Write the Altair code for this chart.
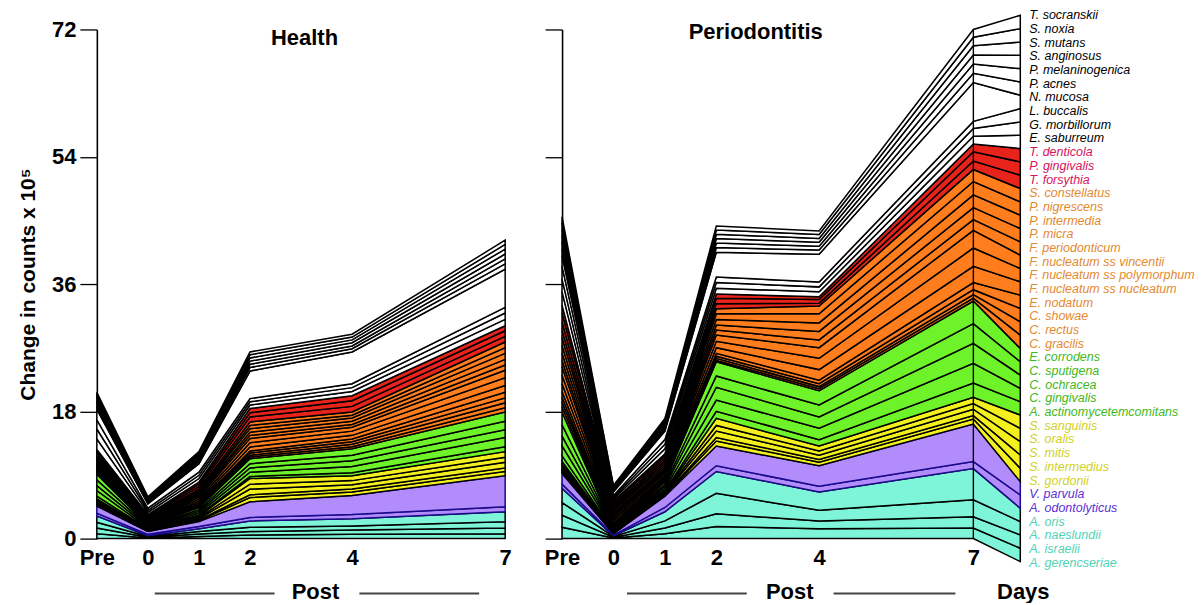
import altair as alt
import pandas as pd

FONT = "Liberation Sans"

SPECIES = [
    "T. socranskii", "S. noxia", "S. mutans", "S. anginosus", "P. melaninogenica",
    "P. acnes", "N. mucosa", "L. buccalis", "G. morbillorum", "E. saburreum",
    "T. denticola", "P. gingivalis", "T. forsythia",
    "S. constellatus", "P. nigrescens", "P. intermedia", "P. micra", "F. periodonticum",
    "F. nucleatum ss vincentii", "F. nucleatum ss polymorphum", "F. nucleatum ss nucleatum",
    "E. nodatum", "C. showae", "C. rectus", "C. gracilis",
    "E. corrodens", "C. sputigena", "C. ochracea", "C. gingivalis", "A. actinomycetemcomitans",
    "S. sanguinis", "S. oralis", "S. mitis", "S. intermedius", "S. gordonii",
    "V. parvula", "A. odontolyticus",
    "A. oris", "A. naeslundii", "A. israelii", "A. gerencseriae",
]
COMPLEX = (["other"] * 10 + ["red"] * 3 + ["orange"] * 12 + ["green"] * 5
           + ["yellow"] * 5 + ["purple"] * 2 + ["blue"] * 4)

DAYS = [-1, 0, 1, 2, 4, 7]   # -1 = "Pre"

# ---- Health: values (counts x 10^5) per species, top of stack first ----
H_PRE = [0.35, 0.35, 0.4, 0.4, 0.45, 0.45, 1.5, 1.3, 1.4, 1.5,
         0.3, 0.35, 0.35,
         0.25, 0.2, 0.25, 0.2, 0.2, 0.25, 0.25, 0.25, 0.15, 0.15, 0.15, 0.2,
         0.8, 0.8, 0.7, 0.8, 0.4,
         0.2, 0.2, 0.2, 0.2, 0.2,
         1.0, 0.4,
         0.9, 0.8, 0.8, 0.7]
H_D0 = [0.15, 0.15, 0.15, 0.2, 0.15, 0.2, 0.6, 0.3, 0.3, 0.3,
        0.15, 0.15, 0.2,
        0.1, 0.08, 0.1, 0.08, 0.08, 0.1, 0.1, 0.1, 0.06, 0.06, 0.06, 0.08,
        0.15, 0.1, 0.15, 0.1, 0.1,
        0.06, 0.06, 0.06, 0.06, 0.06,
        0.4, 0.2,
        0.1, 0.1, 0.1, 0.1]
H_D1 = [0.25, 0.25, 0.3, 0.3, 0.3, 0.3, 1.2, 0.45, 0.45, 0.5,
        0.3, 0.35, 0.35,
        0.25, 0.2, 0.25, 0.2, 0.2, 0.3, 0.3, 0.25, 0.15, 0.15, 0.15, 0.2,
        0.3, 0.25, 0.25, 0.25, 0.15,
        0.2, 0.15, 0.2, 0.1, 0.15,
        0.7, 0.3,
        0.4, 0.35, 0.35, 0.3]
H_D2 = [0.4, 0.45, 0.45, 0.45, 0.45, 0.5, 3.9, 0.45, 0.45, 0.5,
        0.6, 0.6, 0.7,
        0.5, 0.45, 0.5, 0.45, 0.45, 0.6, 0.6, 0.55, 0.3, 0.3, 0.25, 0.25,
        0.7, 0.6, 0.6, 0.6, 0.3,
        0.8, 0.7, 0.8, 0.4, 0.6,
        2.2, 0.5,
        0.9, 0.6, 0.5, 0.5]
H_D4 = [0.4, 0.4, 0.4, 0.45, 0.4, 0.45, 4.5, 0.55, 0.55, 0.6,
        0.7, 0.8, 0.8,
        0.45, 0.4, 0.45, 0.45, 0.4, 0.55, 0.6, 0.5, 0.4, 0.35, 0.35, 0.3,
        0.9, 0.8, 0.8, 0.9, 0.4,
        0.7, 0.6, 0.6, 0.4, 0.5,
        2.7, 0.6,
        1.0, 0.6, 0.6, 0.6]
H_D7 = [0.6, 0.65, 0.7, 0.7, 0.7, 0.75, 5.4, 0.8, 0.9, 0.9,
        0.7, 0.8, 0.8,
        0.8, 0.8, 0.85, 0.8, 0.75, 1.05, 1.1, 0.95, 0.8, 0.7, 0.7, 0.6,
        1.3, 1.2, 1.1, 1.3, 0.7,
        0.8, 0.7, 0.8, 0.5, 0.6,
        4.4, 0.7,
        1.4, 0.9, 0.8, 0.7]

# ---- Periodontitis ----
P_PRE = [0.85, 0.9, 0.9, 0.95, 0.95, 0.95, 1.5, 1.8, 1.8, 1.9,
         1.1, 1.3, 1.2,
         1.0, 1.1, 1.1, 1.0, 0.9, 1.2, 1.2, 1.1, 0.8, 0.7, 0.7, 0.7,
         1.8, 1.6, 1.4, 1.4, 0.8,
         0.4, 0.3, 0.4, 0.3, 0.3,
         1.5, 0.6,
         2.0, 1.8, 1.7, 1.6]
P_D0 = [0.15, 0.15, 0.15, 0.15, 0.15, 0.15, 0.5, 0.25, 0.25, 0.3,
        0.25, 0.3, 0.25,
        0.3, 0.25, 0.3, 0.25, 0.25, 0.3, 0.3, 0.3, 0.2, 0.15, 0.2, 0.2,
        0.1, 0.1, 0.1, 0.1, 0.1,
        0.06, 0.06, 0.06, 0.06, 0.06,
        0.2, 0.1,
        0.1, 0.1, 0.1, 0.1]
P_D1 = [0.3, 0.3, 0.3, 0.3, 0.3, 0.3, 1.2, 0.65, 0.65, 0.7,
        0.3, 0.35, 0.35,
        0.3, 0.3, 0.3, 0.25, 0.25, 0.3, 0.3, 0.3, 0.2, 0.15, 0.15, 0.2,
        0.35, 0.3, 0.3, 0.3, 0.15,
        0.15, 0.1, 0.15, 0.1, 0.1,
        1.6, 0.6,
        1.3, 1.0, 0.8, 0.7]
P_D2 = [0.55, 0.6, 0.6, 0.65, 0.65, 0.65, 3.5, 0.8, 0.8, 0.8,
        0.6, 0.8, 0.7,
        0.7, 0.8, 0.8, 0.7, 0.7, 0.9, 0.9, 0.8, 0.4, 0.3, 0.3, 0.2,
        2.0, 1.6, 1.8, 1.6, 1.0,
        1.0, 0.8, 0.9, 0.5, 0.7,
        2.8, 0.8,
        3.1, 2.9, 1.8, 1.7]
P_D4 = [0.5, 0.55, 0.55, 0.55, 0.55, 0.6, 3.9, 0.7, 0.7, 0.7,
        0.4, 0.5, 0.4,
        1.1, 1.3, 1.2, 1.2, 1.1, 1.5, 1.6, 1.5, 0.5, 0.4, 0.3, 0.3,
        2.0, 1.7, 1.6, 1.6, 0.9,
        0.7, 0.6, 0.6, 0.4, 0.5,
        2.9, 0.8,
        2.6, 1.5, 1.1, 1.4]
P_D7 = [1.1, 1.2, 1.3, 1.3, 1.3, 1.3, 5.5, 1.0, 1.1, 1.1,
        1.1, 1.3, 1.2,
        1.7, 1.9, 1.8, 1.7, 1.5, 2.5, 2.6, 2.3, 1.0, 0.7, 0.5, 0.4,
        3.2, 2.8, 2.8, 2.8, 2.0,
        0.9, 0.8, 0.9, 0.5, 0.7,
        5.3, 1.0,
        4.4, 2.4, 1.6, 1.5]

HEALTH = [H_PRE, H_D0, H_D1, H_D2, H_D4, H_D7]
PERIO = [P_PRE, P_D0, P_D1, P_D2, P_D4, P_D7]

FILL = {"other": "#ffffff", "red": "#e8231b", "orange": "#ff7d1c", "green": "#6ef22a",
        "yellow": "#f4f01e", "purple": "#b28cfa", "blue": "#7ef5d8"}
STROKE = {"other": "#000000", "red": "#000000", "orange": "#000000", "green": "#000000",
          "yellow": "#000000", "purple": "#1a0a8c", "blue": "#000000"}
LABEL = {"other": "#000000", "red": "#d6135c", "orange": "#e3892f", "green": "#3fb820",
         "yellow": "#cfd11f", "purple": "#5b2fd6", "blue": "#4fd3b5"}

X_FAN = 7.913          # right end of the fan that leads to the species names
FAN_TOP, FAN_BOT = 74.0, -3.25
LAB_TOP, LAB_BOT = 74.0, -3.4
N = len(SPECIES)


def stacked(series, fan):
    rows = []
    for day, vals in zip(DAYS, series):
        base = 0.0
        for i in range(N - 1, -1, -1):
            rows.append(dict(species=SPECIES[i], x=day, y0=base, y1=base + vals[i],
                             fill=FILL[COMPLEX[i]], stroke=STROKE[COMPLEX[i]]))
            base += vals[i]
    if fan:
        step = (FAN_TOP - FAN_BOT) / N
        for i in range(N):
            top = FAN_TOP - step * i
            rows.append(dict(species=SPECIES[i], x=X_FAN, y0=top - step, y1=top,
                             fill=FILL[COMPLEX[i]], stroke=STROKE[COMPLEX[i]]))
    return pd.DataFrame(rows)


one = pd.DataFrame({"a": [0]})
POST_Y = 563


def panel(df, title, tx, ty, xmax, width, show_y, post):
    xaxis = alt.Axis(values=DAYS, labelExpr="datum.value == -1 ? 'Pre' : datum.label",
                     domain=False, ticks=False, grid=False, labelFontSize=22,
                     labelFontWeight="bold", labelPadding=9, labelFlush=False,
                     labelOverlap=False, labelColor="black", labelFont=FONT, title=None)
    if show_y:
        yaxis = alt.Axis(values=[0, 18, 36, 54, 72], tickSize=17, tickWidth=1.3,
                         domainWidth=1.6, domainColor="black", tickColor="black",
                         labelFontSize=22, labelFontWeight="bold", labelPadding=4,
                         labelColor="black", labelFont=FONT, grid=False,
                         title="Change in counts x 10\u2075", titleFontSize=21,
                         titleFontWeight="bold", titleFont=FONT, titleColor="black",
                         titlePadding=13)
    else:
        yaxis = alt.Axis(values=[0, 18, 36, 54, 72], tickSize=17, tickWidth=1.3,
                         domainWidth=1.6, domainColor="black", tickColor="black",
                         labels=False, grid=False, title=None)
    area = alt.Chart(df).mark_area(strokeWidth=1.5, interpolate="linear").encode(
        x=alt.X("x:Q", scale=alt.Scale(domain=[-1, xmax], nice=False, zero=False), axis=xaxis),
        y=alt.Y("y1:Q", scale=alt.Scale(domain=[0, 72], nice=False), axis=yaxis),
        y2="y0:Q",
        fill=alt.Fill("fill:N", scale=None),
        stroke=alt.Stroke("stroke:N", scale=None),
        detail="species:N",
    )
    ttl = alt.Chart(pd.DataFrame({"t": [title]})).mark_text(
        font=FONT, fontSize=22, fontWeight="bold", color="black", baseline="middle"
    ).encode(text="t:N", x=alt.value(tx), y=alt.value(ty))
    layers = [area, ttl]
    # "Post" bracket under the day labels
    px, l1, l2, r1, r2 = post
    layers.append(alt.Chart(pd.DataFrame({"t": ["Post"]})).mark_text(
        font=FONT, fontSize=22, fontWeight="bold", color="black", baseline="middle"
    ).encode(text="t:N", x=alt.value(px), y=alt.value(POST_Y)))
    for a, b in ((l1, l2), (r1, r2)):
        layers.append(alt.Chart(one).mark_rule(color="#444444", strokeWidth=2).encode(
            x=alt.value(a), x2=alt.value(b), y=alt.value(POST_Y + 2)))
    return layers, width


health_df = stacked(HEALTH, fan=False)
perio_df = stacked(PERIO, fan=True)

h_layers, hw = panel(health_df, "Health", 208, 9, 7, 409, True, (219, 58, 178, 263, 383))
p_layers, pw = panel(perio_df, "Periodontitis", 194, 3, X_FAN, 459, False, (228, 65, 185, 272, 394))

# vertical edge at day 7 in the periodontitis panel
tot7 = sum(P_D7)
p_layers.append(alt.Chart(pd.DataFrame({"x": [7], "y0": [0.0], "y1": [tot7]})).mark_rule(
    color="black", strokeWidth=1.4).encode(x="x:Q", y="y0:Q", y2="y1:Q"))

# species names
lstep = (LAB_TOP - LAB_BOT) / (N - 1)
lab_df = pd.DataFrame({"species": SPECIES, "x": [X_FAN] * N,
                       "y": [LAB_TOP - lstep * i for i in range(N)],
                       "lc": [LABEL[c] for c in COMPLEX]})
p_layers.append(alt.Chart(lab_df).mark_text(
    align="left", baseline="middle", dx=9, font=FONT, fontSize=12.5, fontStyle="italic"
).encode(x="x:Q", y="y:Q", text="species:N", color=alt.Color("lc:N", scale=None)))

p_layers.append(alt.Chart(pd.DataFrame({"t": ["Days"]})).mark_text(
    font=FONT, fontSize=22, fontWeight="bold", color="black", baseline="middle"
).encode(text="t:N", x=alt.value(462), y=alt.value(POST_Y)))

health = alt.layer(*h_layers).properties(width=hw, height=510)
perio = alt.layer(*p_layers).properties(width=pw, height=510)

chart = alt.hconcat(health, perio, spacing=32).properties(
    padding={"left": 9, "top": 0, "right": 0, "bottom": 0}
).configure_view(strokeWidth=0)

chart.save("out.html", embed_options={"renderer": "svg", "actions": False})
